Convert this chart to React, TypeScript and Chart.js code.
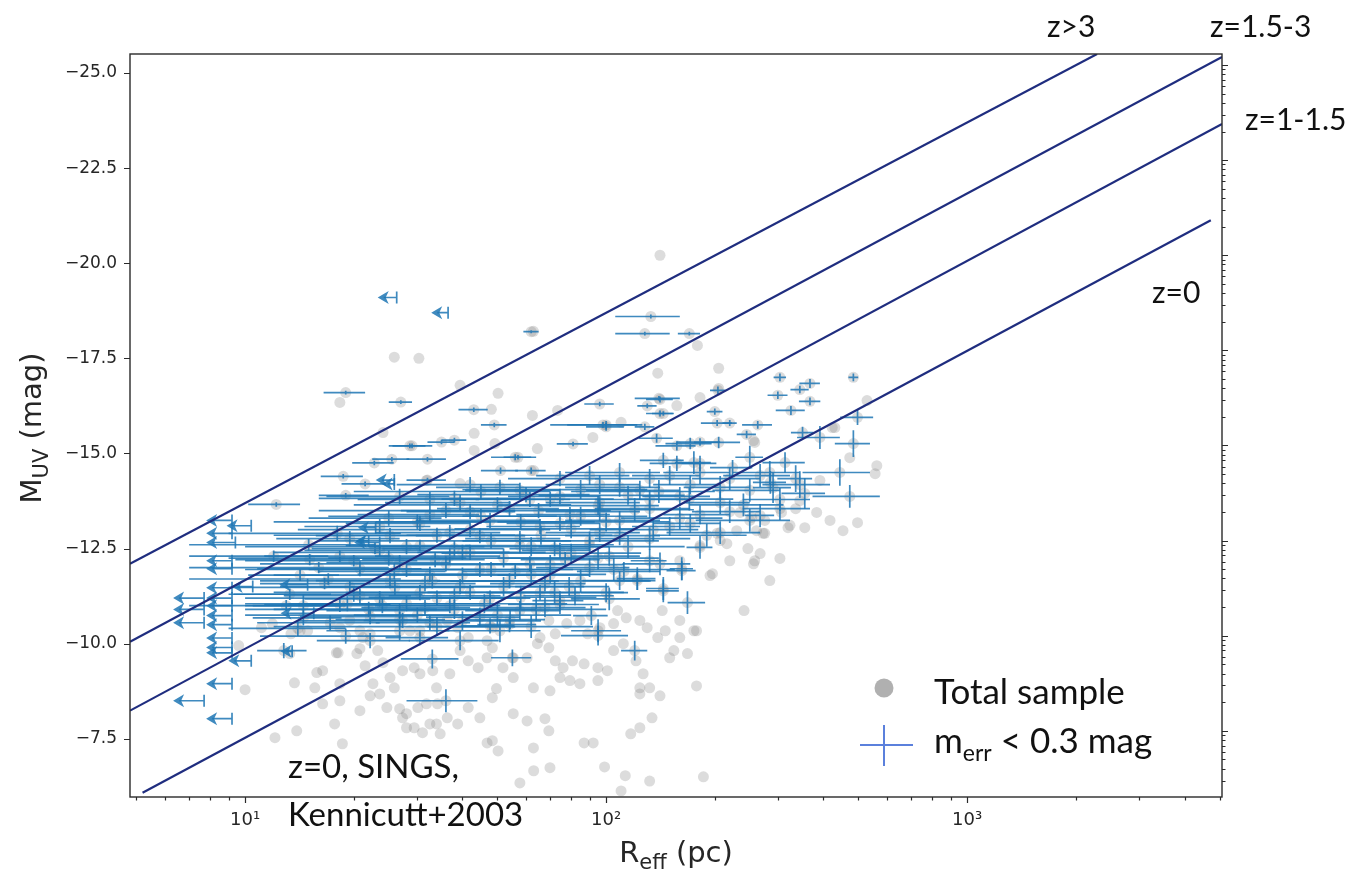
import React, { useEffect, useRef } from 'react';
import { Chart, registerables } from 'chart.js';
Chart.register(...registerables);

// ---------- axes ----------
const X_MIN = 4.8;
const X_MAX = 5080;
const Y_TOP = -25.5;
const Y_BOTTOM = -5.97;
const Y_TICKS = [-25, -22.5, -20, -17.5, -15, -12.5, -10, -7.5];
const X_TICKS = [10, 100, 1000];
const X_TICK_LABELS = ['10\u00B9', '10\u00B2', '10\u00B3'];
const L_ZERO_MAG = -7.71; // magnitude of a major tick on the right (luminosity) axis

// ---------- reference relations (R_eff [pc], M_UV [mag]) ----------
const LINE_Z_GT3 = [[4.8, -12.1], [2290, -25.5]];
const LINE_Z_15_3 = [[4.8, -10.05], [5080, -25.42]];
const LINE_Z_1_15 = [[4.8, -8.24], [5080, -23.66]];
const LINE_Z_0 = [[5.2, -6.08], [4730, -21.13]];

// ---------- total sample only (R_eff, M_UV) ----------
const GRAY_ONLY = [
  [141, -20.21], [62.9, -18.21], [25.9, -17.53], [30.3, -17.5], [179, -17.84], [139, -17.11], [205, -17.24],
  [39.4, -16.79], [18.3, -16.34], [50.2, -16.58], [182, -16.47], [205, -16.71], [157, -16.26], [48.1, -16.16],
  [73.4, -16.13], [62.5, -16.0], [110, -15.82], [24.1, -15.55], [43.1, -15.53], [91.9, -15.42], [49.2, -15.26],
  [43.1, -15.08], [64.5, -15.13], [31.8, -14.29], [39.4, -14.21], [63, -14.55],
  [528, -16.39], [473, -14.89], [556, -14.47], [453, -12.97], [383, -13.45], [562, -14.68], [497, -13.18],
  [417, -13.24], [391, -14.29], [344, -13.76], [323, -13.11], [275, -13.24], [258, -12.18], [284, -11.66],
  [241, -10.87], [220, -12.18], [194, -11.79], [182, -12.58], [160, -12.18], [335, -13.55], [303, -12.24],
  [319, -13.05], [355, -13.05], [247, -12.5], [267, -12.37], [275, -12.9], [230, -12.97], [207, -12.71],
  [197, -11.84], [256, -12.1], [430, -15.68], [258, -15.29], [306, -13.45], [253, -13.32], [261, -12.97],
  [272, -12.9], [203, -12.9], [216, -12.63], [235, -13.45], [423, -15.68], [256, -15.34],
  [13.7, -8.97], [15.6, -8.84], [16.4, -9.29], [18.1, -9.76], [18.3, -10.42], [20.8, -9.87], [21.2, -10.16],
  [23.3, -9.82], [16.4, -8.42], [18.3, -8.5], [17.7, -7.89], [13.9, -7.71], [18.6, -7.37], [20.8, -8.24],
  [22.2, -8.63], [23.6, -8.68], [24.7, -8.32], [25.9, -8.84], [26.8, -8.29], [27.3, -8.05], [28, -7.79],
  [30.1, -8.32], [31.8, -8.42], [31, -7.66], [33.9, -7.89], [34.1, -8.42], [36.3, -8.05], [38.8, -7.89],
  [41.5, -8.32], [44.7, -8.05], [46.8, -7.39], [48.4, -7.45], [50.2, -7.18], [55.3, -8.16], [60.4, -7.97],
  [62.9, -7.26], [67.7, -8.03], [69.4, -7.71], [57.7, -6.34], [69.9, -6.74], [86.9, -7.39], [92.1, -7.39],
  [113, -6.53], [110, -6.13], [132, -6.39], [117, -7.63], [124, -7.79], [134, -8.05], [141, -8.63],
  [154, -9.82], [150, -9.63], [168, -9.74], [178, -8.89], [175, -10.34], [99, -6.76], [186, -6.5], [63, -6.66],
  [29.4, -9.37], [33.1, -9.29], [36.9, -9.21], [39.4, -9.82], [41.5, -9.55], [44.2, -9.37], [46.8, -9.63],
  [48.4, -9.89], [51.8, -9.37], [55.3, -9.63], [60.4, -9.63], [64.5, -10.0], [69.4, -9.89], [72.3, -9.55],
  [76, -9.37], [80.7, -9.55], [86.9, -9.47], [94.9, -9.37], [100.8, -9.29], [104.9, -9.82], [111.6, -10.0],
  [121, -9.55], [126.6, -9.21], [132, -8.84], [55.3, -9.11], [62.9, -8.84], [69.9, -8.76], [74.5, -9.11],
  [79.4, -9.03], [84.6, -8.95], [94.9, -9.03], [124, -8.84], [124, -8.68], [48.4, -8.58], [49.7, -8.82],
  [33.9, -8.84],
  [69.4, -10.61], [65.6, -10.16], [72.3, -10.26], [77.8, -10.53], [84.6, -10.61], [88.9, -10.26], [96.1, -10.42],
  [104.9, -10.53], [113.7, -10.68], [124, -10.61], [129.9, -10.42], [139, -10.16], [145.8, -10.34], [160, -10.61],
  [178, -10.34], [160, -10.16], [143, -10.87], [107.6, -10.87], [48.4, -10.42], [46.8, -10.08], [41.5, -10.16],
  [38.8, -10.42], [36.3, -10.61], [30.5, -10.34], [28.6, -10.34], [22.2, -10.26], [20.8, -10.34], [19.5, -10.61],
  [14.2, -10.34],
  [10, -8.79], [9.6, -9.95], [11.1, -10.42], [11.9, -10.53], [13.4, -10.26], [13.3, -9.74], [14.9, -10.34],
  [15.8, -9.24], [17.9, -9.76], [18.3, -8.95], [20.4, -9.74], [21.5, -9.42], [22.6, -8.95], [24.1, -9.5],
  [25.2, -9.11], [27.3, -9.29], [30.5, -9.21], [12.1, -7.53], [28, -8.16], [29.4, -7.79], [32.5, -7.89],
  [34.7, -7.63],
];

// ---------- m_err < 0.3 mag: (R_eff, M_UV, xerr [pc], yerr [mag]) ----------
const BLUE = [
  [30.5, -12.58, 11.5, 0.15], [57.7, -12.58, 17, 0.2], [90, -12.6, 15, 0.2],
  [23.6, -12.45, 9, 0.15], [42, -12.4, 12, 0.2], [74.5, -12.45, 16, 0.2],
  [18.3, -12.3, 7, 0.15], [36.9, -12.3, 14, 0.2], [102, -12.3, 22, 0.25],
  [26.8, -12.13, 10, 0.2], [61.5, -12.1, 15, 0.2], [141, -12.1, 30, 0.3],
  [20.8, -11.97, 10, 0.2], [44.7, -11.95, 17, 0.2], [90, -12.0, 26, 0.25],
  [32.5, -11.82, 12, 0.2], [70, -11.8, 20, 0.2], [14.2, -11.8, 4, 0.15],
  [25.2, -11.66, 9.5, 0.2], [54, -11.65, 20, 0.2], [109, -11.66, 23, 0.25],
  [19.5, -11.5, 7, 0.15], [39.4, -11.5, 15, 0.2], [79, -11.5, 23, 0.25],
  [30.5, -11.34, 11.5, 0.2], [65.6, -11.34, 19, 0.2], [13.3, -11.3, 4, 0.15],
  [23.6, -11.18, 9, 0.2], [47.7, -11.2, 14, 0.2], [102, -11.18, 22, 0.3],
  [18.3, -11.03, 7, 0.2], [36.9, -11.0, 14, 0.2], [74.5, -11.03, 21, 0.25],
  [26.8, -10.87, 10, 0.2], [57.7, -10.87, 17, 0.25],
  [22.2, -10.71, 8, 0.2], [44.7, -10.7, 13, 0.25],
  [32.5, -10.55, 9.5, 0.2], [17.2, -10.55, 6.4, 0.2],
  [26.8, -10.34, 10, 0.25], [50.8, -10.34, 15, 0.3],
  [38, -12.5, 14, 0.2], [72, -12.5, 18, 0.2], [22.9, -12.5, 7.6, 0.15],
  [33.6, -12.21, 12.5, 0.2], [77, -12.21, 19, 0.2], [15.1, -12.21, 5.7, 0.15],
  [25.9, -11.9, 10, 0.2], [56, -11.9, 16, 0.2], [112, -11.9, 29, 0.25],
  [31.5, -11.58, 12, 0.2], [67.7, -11.58, 20, 0.2], [16.6, -11.58, 5.6, 0.15],
  [38, -11.26, 13, 0.2], [82, -11.26, 23, 0.25], [20.8, -11.26, 8, 0.2],
  [31.5, -10.95, 10.5, 0.2], [67.7, -10.95, 20, 0.25],
  [26.8, -10.63, 9, 0.2], [54.2, -10.63, 13.5, 0.25],
  [39.4, -10.08, 11, 0.25], [22.2, -10.08, 6.4, 0.2],
  [45, -14.0, 25, 0.2], [85, -14.05, 45, 0.25], [140, -14.0, 60, 0.3],
  [60, -13.92, 30, 0.2], [115, -13.9, 50, 0.25],
  [38, -13.82, 22, 0.2], [70, -13.8, 35, 0.2], [170, -13.8, 55, 0.3],
  [50, -13.65, 30, 0.2], [95, -13.63, 45, 0.25], [240, -13.65, 70, 0.3],
  [36, -13.5, 20, 0.2], [65, -13.5, 38, 0.2], [120, -13.52, 55, 0.3],
  [45, -13.35, 28, 0.2], [85, -13.35, 45, 0.25], [160, -13.3, 50, 0.3],
  [30, -13.2, 18, 0.2], [58, -13.2, 35, 0.2], [100, -13.2, 50, 0.25],
  [42, -13.0, 28, 0.2], [80, -13.02, 42, 0.25], [135, -13.0, 45, 0.3],
  [34, -12.85, 22, 0.2], [66, -12.85, 38, 0.25], [190, -12.85, 55, 0.3],
  [48, -12.7, 32, 0.2], [90, -12.7, 50, 0.25],
  [28, -12.55, 18, 0.2], [62, -12.55, 40, 0.25], [115, -12.55, 50, 0.3],
  [40, -12.4, 28, 0.2], [80, -12.38, 45, 0.25],
  [25, -12.25, 16, 0.2], [52, -12.25, 35, 0.25], [95, -12.25, 45, 0.3],
  [36, -12.1, 25, 0.2], [70, -12.08, 42, 0.25],
  [48, -11.95, 33, 0.2], [28, -11.95, 18, 0.2], [105, -11.95, 50, 0.3],
  [40, -11.8, 28, 0.2], [62, -11.82, 38, 0.25],
  [33, -11.65, 22, 0.2], [85, -11.65, 48, 0.3],
  [52, -11.5, 35, 0.25], [26, -11.48, 17, 0.2],
  [42, -11.35, 30, 0.2], [72, -11.35, 40, 0.3],
  [34, -11.2, 24, 0.2], [58, -11.22, 36, 0.3],
  [46, -11.05, 32, 0.25], [28, -11.05, 18, 0.2],
  [38, -10.9, 26, 0.25], [64, -10.9, 36, 0.3],
  [30, -10.75, 20, 0.2], [50, -10.75, 30, 0.3],
  [40, -10.6, 26, 0.25],
  [34, -10.45, 22, 0.25], [62, -10.45, 30, 0.3],
  [109, -14.5, 32, 0.25], [182, -14.5, 38, 0.3], [284, -14.5, 60, 0.3], [444, -14.5, 94, 0.35],
  [74.5, -14.34, 21, 0.2], [132, -14.34, 39, 0.25], [220, -14.34, 47, 0.3],
  [42, -14.18, 15.7, 0.2], [96, -14.18, 28, 0.25], [171, -14.18, 36, 0.25], [344, -14.18, 73, 0.35],
  [57.7, -14.03, 17, 0.2], [124, -14.03, 36, 0.25], [250, -14.03, 53, 0.3],
  [26.8, -13.87, 10, 0.2], [74.5, -13.87, 21, 0.2], [160, -13.87, 34, 0.25], [473, -13.87, 100, 0.3],
  [39.4, -13.71, 15, 0.2], [96, -13.71, 28, 0.2], [207, -13.71, 43, 0.3],
  [54, -13.55, 20, 0.2], [132, -13.55, 39, 0.25], [303, -13.55, 64, 0.3],
  [32.5, -13.39, 12, 0.2], [79.4, -13.39, 23, 0.2], [182, -13.39, 38, 0.25],
  [47.7, -13.24, 18, 0.2], [109, -13.24, 32, 0.25], [250, -13.24, 73, 0.3],
  [23.6, -13.08, 9, 0.2], [65.6, -13.08, 19, 0.2], [150, -13.08, 32, 0.25],
  [36.9, -12.92, 14, 0.2], [96, -12.92, 28, 0.25], [207, -12.92, 60, 0.3],
  [57.7, -12.76, 17, 0.2], [132, -12.76, 39, 0.3], [19.5, -12.76, 7.3, 0.2],
  [90, -14.42, 26, 0.25], [150, -14.42, 32, 0.25], [267, -14.42, 56, 0.3],
  [50.8, -14.11, 17, 0.2], [109, -14.11, 32, 0.25], [207, -14.11, 43, 0.3],
  [32.5, -13.79, 12, 0.2], [61.5, -13.79, 18, 0.2], [132, -13.79, 39, 0.25], [303, -13.79, 64, 0.3],
  [42, -13.47, 14, 0.2], [96, -13.47, 28, 0.25], [220, -13.47, 47, 0.3],
  [30.5, -13.16, 11.5, 0.2], [74.5, -13.16, 21.5, 0.2], [171, -13.16, 36, 0.25],
  [44.7, -12.84, 15, 0.2], [109, -12.84, 32, 0.25], [25.2, -12.84, 9.5, 0.2],
  [141, -16.42, 12, 0.08], [141, -16.05, 12, 0.08], [204, -16.66, 10, 0.1], [299, -16.53, 19, 0.1],
  [303, -17.0, 12, 0.1], [367, -16.84, 24, 0.12], [344, -16.68, 20, 0.1], [367, -16.37, 25, 0.1],
  [325, -16.13, 30, 0.12], [484, -17.0, 15, 0.1], [497, -15.95, 52, 0.2], [350, -15.55, 25, 0.15],
  [391, -15.42, 53, 0.3], [484, -15.26, 54, 0.35], [313, -14.76, 42, 0.27], [250, -14.9, 22, 0.3],
  [335, -14.34, 37, 0.35], [355, -13.95, 49, 0.4], [290, -14.1, 35, 0.4], [267, -13.37, 25, 0.3],
  [182, -14.74, 20, 0.2], [157, -14.74, 25, 0.2], [205, -15.29, 30, 0.15], [171, -15.26, 25, 0.15],
  [120, -9.82, 10, 0.26], [95, -10.21, 20, 0.26], [55, -9.63, 7, 0.22], [36, -8.5, 8, 0.3],
  [33, -9.6, 6, 0.25], [30.5, -10.16, 6, 0.2], [54, -10.5, 10, 0.2], [47.7, -10.47, 8, 0.2],
  [91, -10.74, 10, 0.25], [144, -11.39, 15, 0.3], [168, -11.08, 20, 0.3], [162, -11.92, 15, 0.25],
  [122, -11.66, 15, 0.25], [100, -11.34, 15, 0.25], [27.3, -10.61, 6, 0.2], [19.2, -11.05, 6, 0.2],
  [14.5, -10.68, 4, 0.2], [12.8, -9.82, 2, 0.2],
  [162, -11.97, 12, 0.3], [144, -11.45, 15, 0.3], [122, -11.71, 15, 0.3], [95, -10.34, 15, 0.3],
  [74.5, -11.13, 12, 0.25], [182, -12.53, 15, 0.3], [132, -12.18, 15, 0.3],
  [17, -11.7, 10, 0.15], [16, -12.0, 9, 0.15], [15, -12.6, 8, 0.15], [20, -11.3, 11, 0.2],
  [13, -11.0, 6, 0.15], [22, -10.9, 12, 0.2], [12, -12.3, 5, 0.15], [18, -12.9, 9, 0.2],
  [25, -13.3, 10, 0.2], [14, -10.4, 5, 0.2], [19, -10.2, 8, 0.2], [24, -11.0, 14, 0.2],
  [20, -12.18, 10, 0.15], [14.5, -11.0, 4, 0.3], [12.2, -13.66, 2, 0.06],
  [133, -18.6, 27, 0.05], [128, -18.15, 22, 0.05], [170, -18.15, 12, 0.05], [62, -18.2, 3, 0.04],
  [19, -16.6, 2.5, 0.05], [27, -16.35, 2, 0.05], [140, -16.45, 20, 0.06], [96, -16.3, 9, 0.06],
  [130, -16.25, 8, 0.06], [200, -16.1, 10, 0.08], [144, -16.05, 10, 0.06], [43, -16.15, 4, 0.06],
  [49, -15.75, 4, 0.06], [98, -15.75, 28, 0.08], [128, -15.7, 8, 0.08], [203, -15.8, 20, 0.08],
  [220, -15.8, 10, 0.08], [29, -15.2, 4, 0.06], [35, -15.3, 3, 0.06], [38, -15.35, 3, 0.06],
  [81, -15.25, 8, 0.06], [22.8, -14.75, 3, 0.06], [25.5, -14.85, 3, 0.06], [32, -14.85, 4, 0.06],
  [57, -14.9, 5, 0.06], [18.7, -14.4, 2.5, 0.06], [21.5, -14.2, 3, 0.06], [19, -13.9, 3, 0.06],
  [51, -14.55, 6, 0.08], [62, -14.55, 6, 0.08], [100, -15.75, 22, 0.1], [28.6, -15.2, 3, 0.06],
  [32, -14.3, 4, 0.06], [56, -14.9, 8, 0.08], [144, -14.82, 20, 0.2], [175, -14.76, 20, 0.3],
  [182, -15.3, 25, 0.1], [100, -15.7, 12, 0.1], [138, -15.4, 15, 0.12], [157, -15.2, 20, 0.12],
  [263, -15.75, 25, 0.1], [245, -15.5, 15, 0.1], [224, -14.63, 30, 0.2], [285, -14.24, 30, 0.3],
];

// ---------- upper limits in R_eff: (R_eff limit, M_UV, arrow tip R_eff) ----------
const LIMITS = [
  [9.2, -13.24, 7.9], [10.4, -13.1, 9.0], [9.2, -12.9, 7.9], [9.4, -12.66, 7.9], [9.2, -12.18, 7.9],
  [9.2, -11.97, 7.9], [9.2, -11.47, 7.9], [10.5, -11.5, 9.3], [9.2, -11.2, 7.9], [9.2, -11.0, 7.9],
  [9.2, -10.74, 7.9], [9.2, -10.5, 7.9], [9.2, -10.15, 7.9], [9.2, -9.9, 7.9], [9.2, -9.76, 7.9],
  [10.4, -9.55, 9.1], [9.2, -8.95, 7.9], [9.2, -8.03, 7.9],
  [7.7, -11.2, 6.4], [7.7, -10.9, 6.4], [7.7, -10.55, 6.4], [7.7, -8.5, 6.4],
  [14.9, -11.55, 12.6], [15.5, -10.8, 12.7], [13.5, -9.8, 12.7], [23.6, -12.66, 20.3],
  [25.9, -14.3, 23.3], [25.9, -14.2, 24.2], [23, -13.05, 20.8], [22, -12.7, 20.5],
  [26.3, -19.1, 23.6], [36.5, -18.7, 33.2],
];

const LINE_LABELS = ['z>3', 'z=1.5-3', 'z=1-1.5', 'z=0'];
const NOTE_LINES = ['z=0, SINGS,', 'Kennicutt+2003'];
const LEGEND_TOTAL = 'Total sample';
const LEGEND_ERR = ['m', 'err', ' < 0.3 mag'];

const BLUE_COLOR = 'rgba(31,119,180,0.86)';
const NAVY = '#1f2d7f';
const AXIS_FONT = '"DejaVu Sans", sans-serif';
const NOTE_FONT = 'Lato, "Open Sans", sans-serif';

const BLUE_INDEX = 1;

const toXY = (arr: number[][]) => arr.map((p) => ({ x: p[0], y: p[1] }));

const customPlugin = {
  id: 'customDraw',
  afterDatasetDraw(chart: any, args: any) {
    if (args.index !== BLUE_INDEX) return;
    const { ctx, chartArea: a } = chart;
    const xs = chart.scales.x;
    const ys = chart.scales.y;
    ctx.save();
    ctx.beginPath();
    ctx.rect(a.left, a.top, a.right - a.left, a.bottom - a.top);
    ctx.clip();
    ctx.strokeStyle = BLUE_COLOR;
    ctx.fillStyle = BLUE_COLOR;
    ctx.lineWidth = 1.7;
    for (const [r, m, xe, ye] of BLUE) {
      const px = xs.getPixelForValue(r);
      const py = ys.getPixelForValue(m);
      const lo = r - xe > 0.5 ? xs.getPixelForValue(r - xe) : a.left - 10;
      const hi = xs.getPixelForValue(r + xe);
      ctx.beginPath();
      ctx.moveTo(lo, py);
      ctx.lineTo(hi, py);
      ctx.moveTo(px, ys.getPixelForValue(m - ye));
      ctx.lineTo(px, ys.getPixelForValue(m + ye));
      ctx.stroke();
    }
    for (const [r, m, tip] of LIMITS) {
      const pc = xs.getPixelForValue(r);
      const pt = xs.getPixelForValue(tip);
      const py = ys.getPixelForValue(m);
      ctx.beginPath();
      ctx.moveTo(pt + 4, py);
      ctx.lineTo(pc, py);
      ctx.moveTo(pc, py - 6);
      ctx.lineTo(pc, py + 6);
      ctx.stroke();
      ctx.beginPath();
      ctx.moveTo(pt - 2, py);
      ctx.lineTo(pt + 9, py - 6.5);
      ctx.lineTo(pt + 6, py);
      ctx.lineTo(pt + 9, py + 6.5);
      ctx.closePath();
      ctx.fill();
    }
    ctx.restore();
  },
  afterDraw(chart: any) {
    const { ctx, chartArea: a } = chart;
    const xs = chart.scales.x;
    const ys = chart.scales.y;
    ctx.save();
    // frame
    ctx.strokeStyle = '#2a2a2a';
    ctx.lineWidth = 1.4;
    ctx.strokeRect(a.left, a.top, a.right - a.left, a.bottom - a.top);
    // left ticks
    ctx.lineWidth = 1.2;
    ctx.beginPath();
    for (const v of Y_TICKS) {
      const py = Math.round(ys.getPixelForValue(v)) + 0.5;
      ctx.moveTo(a.left - 6, py);
      ctx.lineTo(a.left, py);
    }
    // bottom ticks
    for (let n = 0; n <= 3; n++) {
      for (let k = 1; k <= 9; k++) {
        const v = k * Math.pow(10, n);
        if (v < X_MIN || v > X_MAX) continue;
        const px = Math.round(xs.getPixelForValue(v)) + 0.5;
        const len = k === 1 ? 6 : 3.5;
        ctx.moveTo(px, a.bottom);
        ctx.lineTo(px, a.bottom + len);
      }
    }
    // right luminosity-axis ticks (log)
    for (let n = -1; n <= 8; n++) {
      for (let k = 1; k <= 9; k++) {
        const mag = L_ZERO_MAG - 2.5 * (n + Math.log10(k));
        if (mag < Y_TOP || mag > Y_BOTTOM) continue;
        const py = Math.round(ys.getPixelForValue(mag)) + 0.5;
        const len = k === 1 ? 6 : 3.5;
        ctx.moveTo(a.right, py);
        ctx.lineTo(a.right + len, py);
      }
    }
    ctx.stroke();

    // axis titles
    ctx.fillStyle = '#262626';
    ctx.textBaseline = 'alphabetic';
    const drawSub = (parts: [string, number, number][], x0: number, y0: number) => {
      let x = x0;
      for (const [t, size, dy] of parts) {
        ctx.font = `${size}px ${AXIS_FONT}`;
        ctx.fillText(t, x, y0 + dy);
        x += ctx.measureText(t).width;
      }
      return x - x0;
    };
    const measure = (parts: [string, number, number][]) => {
      let w = 0;
      for (const [t, size] of parts) {
        ctx.font = `${size}px ${AXIS_FONT}`;
        w += ctx.measureText(t).width;
      }
      return w;
    };
    const xTitle: [string, number, number][] = [['R', 29, 0], ['eff', 21, 7], [' (pc)', 29, 0]];
    const wx = measure(xTitle);
    ctx.textAlign = 'left';
    drawSub(xTitle, 676 - wx / 2, 862);
    const yTitle: [string, number, number][] = [['M', 29, 0], ['UV', 21, 7], [' (mag)', 29, 0]];
    const wy = measure(yTitle);
    ctx.save();
    ctx.translate(41, 428);
    ctx.rotate(-Math.PI / 2);
    drawSub(yTitle, -wy / 2, 0);
    ctx.restore();

    // annotations
    ctx.fillStyle = '#111';
    ctx.font = `30px ${NOTE_FONT}`;
    ctx.fillText(LINE_LABELS[0], 1047, 37);
    ctx.fillText(LINE_LABELS[1], 1210, 37);
    ctx.fillText(LINE_LABELS[2], 1245, 130);
    ctx.fillText(LINE_LABELS[3], 1152, 303);
    ctx.font = `33px ${NOTE_FONT}`;
    ctx.fillText(NOTE_LINES[0], 288, 778);
    ctx.fillText(NOTE_LINES[1], 288, 826);

    // legend
    ctx.fillStyle = '#b0b0b0';
    ctx.beginPath();
    ctx.arc(884, 688, 9.5, 0, Math.PI * 2);
    ctx.fill();
    ctx.strokeStyle = '#5b80dc';
    ctx.lineWidth = 2;
    ctx.beginPath();
    ctx.moveTo(860, 745);
    ctx.lineTo(913, 745);
    ctx.moveTo(884, 725);
    ctx.lineTo(884, 766);
    ctx.stroke();
    ctx.fillStyle = '#111';
    ctx.font = `35px ${NOTE_FONT}`;
    ctx.fillText(LEGEND_TOTAL, 934, 704);
    let lx = 934;
    ctx.fillText(LEGEND_ERR[0], lx, 753);
    lx += ctx.measureText(LEGEND_ERR[0]).width;
    ctx.font = `23px ${NOTE_FONT}`;
    ctx.fillText(LEGEND_ERR[1], lx, 761);
    lx += ctx.measureText(LEGEND_ERR[1]).width;
    ctx.font = `35px ${NOTE_FONT}`;
    ctx.fillText(LEGEND_ERR[2], lx, 753);
    ctx.restore();
  },
};

export default function App() {
  const ref = useRef<HTMLCanvasElement | null>(null);
  useEffect(() => {
    document.body.style.margin = '0';
    const canvas = ref.current;
    if (!canvas) return;
    const totalSample = [...GRAY_ONLY, ...BLUE.map((b) => [b[0], b[1]])];
    const lineDs = (pts: number[][]) => ({
      data: toXY(pts),
      showLine: true,
      borderColor: NAVY,
      borderWidth: 2.2,
      pointRadius: 0,
      order: 1,
    });
    const chart = new Chart(canvas, {
      type: 'scatter',
      data: {
        datasets: [
          {
            data: toXY(totalSample),
            pointRadius: 5.5,
            pointBackgroundColor: 'rgba(120,120,120,0.26)',
            pointBorderWidth: 0,
            order: 3,
          } as any,
          {
            data: toXY(BLUE),
            pointRadius: 0,
            order: 2,
          } as any,
          lineDs(LINE_Z_GT3),
          lineDs(LINE_Z_15_3),
          lineDs(LINE_Z_1_15),
          lineDs(LINE_Z_0),
        ],
      },
      options: {
        animation: false,
        responsive: false,
        devicePixelRatio: 1,
        layout: { padding: { top: 54, right: 131, left: 0, bottom: 0 } },
        plugins: { legend: { display: false }, tooltip: { enabled: false } },
        events: [],
        scales: {
          x: {
            type: 'logarithmic',
            min: X_MIN,
            max: X_MAX,
            grid: { display: false, drawTicks: false },
            border: { display: false },
            afterBuildTicks: (s: any) => {
              s.ticks = X_TICKS.map((v) => ({ value: v, major: true }));
            },
            afterFit: (s: any) => {
              s.height = 74;
            },
            ticks: {
              autoSkip: false,
              maxRotation: 0,
              padding: 13,
              color: '#262626',
              font: { family: 'DejaVu Sans', size: 18 },
              callback: (v: any) => {
                const i = X_TICKS.indexOf(Number(v));
                return i >= 0 ? X_TICK_LABELS[i] : '';
              },
            },
          },
          y: {
            type: 'linear',
            reverse: true,
            min: Y_TOP,
            max: Y_BOTTOM,
            grid: { display: false, drawTicks: false },
            border: { display: false },
            afterBuildTicks: (s: any) => {
              s.ticks = Y_TICKS.map((v) => ({ value: v }));
            },
            afterFit: (s: any) => {
              s.width = 130;
            },
            ticks: {
              autoSkip: false,
              padding: 13,
              color: '#262626',
              font: { family: 'DejaVu Sans', size: 17 },
              callback: (v: any) => {
                const n = Number(v);
                return (n < 0 ? '\u2212' : '') + Math.abs(n).toFixed(1);
              },
            },
          },
        },
      } as any,
      plugins: [customPlugin],
    });
    return () => chart.destroy();
  }, []);
  return (
    <div style={{ position: 'fixed', left: 0, top: 0, width: 1353, height: 871, background: '#fff' }}>
      <canvas ref={ref} width={1353} height={871} style={{ width: 1353, height: 871, display: 'block' }} />
    </div>
  );
}
